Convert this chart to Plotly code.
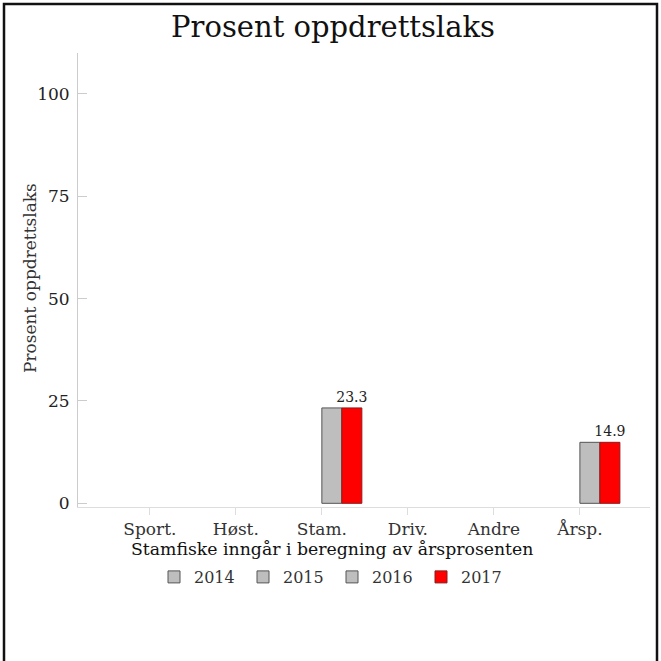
import plotly.graph_objects as go

categories = ["Sport.", "Høst.", "Stam.", "Driv.", "Andre", "Årsp."]
years = ["2014", "2015", "2016", "2017"]
values_2014 = [None, None, None, None, None, None]
values_2015 = [None, None, None, None, None, None]
values_2016 = [None, None, 23.3, None, None, 14.9]
values_2017 = [None, None, 23.3, None, None, 14.9]
series = [values_2014, values_2015, values_2016, values_2017]
fill_colors = ["#BEBEBE", "#BEBEBE", "#BEBEBE", "#FF0000"]
line_colors = ["#555555", "#555555", "#555555", "#8B1A1A"]

title_text = "Prosent oppdrettslaks"
y_title = "Prosent oppdrettslaks"
x_title = "Stamfiske inngår i beregning av årsprosenten"
y_ticks = [0, 25, 50, 75, 100]

SERIF = "DejaVu Serif"

fig = go.Figure()
for i, (yr, vals) in enumerate(zip(years, series)):
    kw = {}
    if yr == "2017":
        kw = dict(
            text=[("%.1f" % v) if v is not None else "" for v in vals],
            textposition="outside",
            constraintext="none",
            textfont=dict(family=SERIF, size=14, color="#222"),
            cliponaxis=False,
        )
    fig.add_trace(go.Bar(
        name=yr, x=categories, y=vals,
        marker=dict(color=fill_colors[i], line=dict(color=line_colors[i], width=1)),
        **kw,
    ))

# plot domain: x 78..650 px, y 53..507 px
L, R, T, B = 78, 11, 53, 154
W = 661 - L - R
H = 661 - T - B

def px_x(x):
    return (x - L) / W

def px_y(y):
    return (661 - B - y) / H

fig.update_layout(
    width=661, height=661,
    margin=dict(l=L, r=R, t=T, b=B),
    paper_bgcolor="white", plot_bgcolor="white",
    barmode="group", bargap=0.07, bargroupgap=0,
    showlegend=True,
    font=dict(family=SERIF, color="#222"),
    title=dict(text=title_text, x=333 / 661, xref="container", xanchor="center",
               y=1 - 27 / 661, yref="container", yanchor="middle",
               font=dict(family=SERIF, size=29, color="#111")),
    xaxis=dict(range=[-0.835, 5.815], showgrid=False, showline=True, linecolor="#DDDDDD",
               linewidth=1, ticks="outside", ticklen=7, tickcolor="#DDDDDD",
               tickfont=dict(family=SERIF, size=17, color="#333"), zeroline=False,
               fixedrange=True),
    yaxis=dict(range=[-0.9, 110], showgrid=False, showline=True, linecolor="#CCCCCC",
               linewidth=1, ticks="inside", ticklen=9, tickcolor="#CCCCCC",
               tickvals=y_ticks, tickfont=dict(family=SERIF, size=17, color="#222"),
               zeroline=False, ticklabelstandoff=4, fixedrange=True),
    legend=dict(orientation="h", x=px_x(332), xanchor="center", y=px_y(577), yanchor="middle",
                font=dict(family=SERIF, size=16, color="#333"),
                itemwidth=30, entrywidth=44, tracegroupgap=0, bgcolor="rgba(0,0,0,0)"),
    annotations=[
        dict(text=y_title, xref="paper", yref="paper", x=px_x(30), y=px_y(278),
             textangle=-90, showarrow=False, xanchor="center", yanchor="middle",
             font=dict(family=SERIF, size=17, color="#333")),
        dict(text=x_title, xref="paper", yref="paper", x=px_x(332), y=px_y(549),
             showarrow=False, xanchor="center", yanchor="middle",
             font=dict(family=SERIF, size=17.3, color="#111")),
    ],
    shapes=[
        dict(type="rect", xref="paper", yref="paper",
             x0=px_x(4), x1=px_x(657), y0=px_y(700), y1=px_y(4),
             line=dict(color="#111", width=2.5), fillcolor="rgba(0,0,0,0)", layer="below"),
    ],
)

fig.write_html("out.html", config={"displayModeBar": False},
               post_script="document.body.style.margin='0';document.body.style.overflow='hidden';")
